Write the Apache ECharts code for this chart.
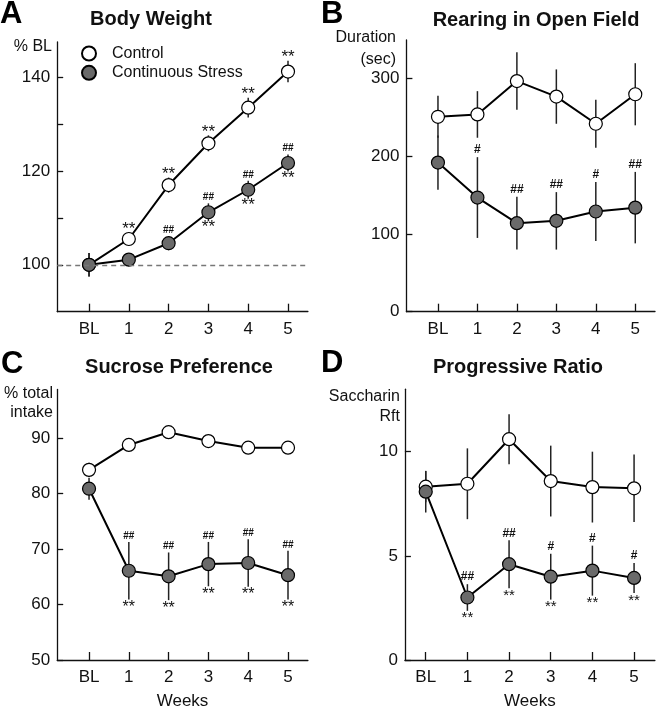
<!DOCTYPE html>
<html>
<head>
<meta charset="utf-8">
<script src="https://cdn.jsdelivr.net/npm/echarts@6/dist/echarts.min.js"></script>
<style>html,body{margin:0;padding:0;background:#fff}#c{width:656px;height:720px}</style>
</head>
<body>
<div id="c"></div>
<script>
// ---- categories ----
const weeks = ['BL', '1', '2', '3', '4', '5'];
const weekPos = [0, 1, 2, 3, 4, 5];

// ---- A: Body Weight (% BL) ----
const bwCtrl = [100, 105.5, 117.0, 125.9, 133.5, 141.2];
const bwCtrlErr = [2.5, 1.4, 1.6, 1.7, 2.1, 2.3];
const bwStress = [100, 101.1, 104.6, 111.2, 116.0, 121.7];
const bwStressErr = [2.5, 1.2, 1.5, 1.9, 1.9, 1.8];
const bwCtrlAbove = ['', '**', '**', '**', '**', '**'];
const bwStressAbove = ['', '', '##', '##', '##', '##'];
const bwStressBelow = ['', '', '', '**', '**', '**'];
const bwTicks = [100, 110, 120, 130, 140];
const bwLabels = [100, 120, 140];

// ---- B: Rearing in Open Field (sec) ----
const rrCtrl = [251, 254, 297, 277, 242, 280];
const rrCtrlErr = [27, 30, 37, 35, 31, 40];
const rrStress = [192, 147, 114, 117, 129, 134];
const rrStressErr = [35, 52, 34, 37, 38, 46];
const rrStressAbove = ['', '#', '##', '##', '#', '##'];
const rrTicks = [0, 100, 200, 300];

// ---- C: Sucrose Preference (% total intake) ----
const spCtrl = [84.3, 88.8, 91.1, 89.5, 88.3, 88.3];
const spCtrlErr = [1.3, 1.0, 0.9, 1.0, 0.8, 0.9];
const spStress = [80.9, 66.1, 65.1, 67.3, 67.5, 65.3];
const spStressErr = [2.0, 5.2, 4.3, 4.0, 4.3, 4.4];
const spStressAbove = ['', '##', '##', '##', '##', '##'];
const spStressBelow = ['', '**', '**', '**', '**', '**'];
const spTicks = [50, 60, 70, 80, 90];

// ---- D: Progressive Ratio (Saccharin Rft) ----
const prCtrl = [8.32, 8.46, 10.6, 8.59, 8.3, 8.24];
const prCtrlErr = [0.75, 1.7, 1.2, 1.7, 1.7, 1.62];
const prStress = [8.08, 3.0, 4.6, 4.0, 4.29, 3.94];
const prStressErr = [1.0, 0.64, 1.15, 1.1, 1.2, 0.72];
const prStressAbove = ['', '##', '##', '#', '#', '#'];
const prStressBelow = ['', '**', '**', '**', '**', '**'];
const prTicks = [0, 5, 10];

const FONT = '"Liberation Sans", Arial, Helvetica, sans-serif';
const STRESS_FILL = '#6a6a6a';

const chart = echarts.init(document.getElementById('c'), null, {renderer: 'canvas'});

function xAxisDef(gi, min, name) {
  return {
    type: 'value', gridIndex: gi, min: min, max: 5.5,
    name: name || '', nameLocation: 'middle', nameGap: 33,
    nameTextStyle: {fontFamily: FONT, fontSize: 17, color: '#111'},
    axisLine: {onZero: false, lineStyle: {color: '#111', width: 1.3}},
    axisTick: {inside: true, length: 8, customValues: weekPos, lineStyle: {color: '#111', width: 1.3}},
    axisLabel: {customValues: weekPos, formatter: v => weeks[Math.round(v)], fontFamily: FONT, fontSize: 17, color: '#111', margin: 9},
    splitLine: {show: false}
  };
}
function yAxisDef(gi, min, max, ticks, labels) {
  return {
    type: 'value', gridIndex: gi, min: min, max: max,
    axisLine: {show: true, onZero: false, lineStyle: {color: '#111', width: 1.3}},
    axisTick: {show: true, inside: true, length: 6, customValues: ticks, lineStyle: {color: '#111', width: 1.3}},
    axisLabel: {customValues: labels, fontFamily: FONT, fontSize: 17, color: '#111', margin: 7},
    splitLine: {show: false}
  };
}

function pts(vals) { return vals.map((v, i) => [weekPos[i], v]); }

function lineSeries(gi, name, vals, filled, extra) {
  return Object.assign({
    type: 'line', name: name, xAxisIndex: gi, yAxisIndex: gi,
    data: pts(vals), symbol: 'circle', symbolSize: 13,
    lineStyle: {color: '#000', width: 2},
    itemStyle: {color: filled ? STRESS_FILL : '#fff', borderColor: '#000', borderWidth: 1.2, opacity: 1},
    z: filled ? 4 : 3, animation: false
  }, extra || {});
}

function errSeries(gi, vals, errs, above, below, fAbove, fBelow, gapA, gapB) {
  return {
    type: 'custom', name: 'err' + gi, xAxisIndex: gi, yAxisIndex: gi, z: 1, animation: false,
    data: vals.map((v, i) => [weekPos[i], v, errs[i]]),
    renderItem: function (params, api) {
      const x = api.value(0), m = api.value(1), e = api.value(2);
      const t = api.coord([x, m + e]);
      const b = api.coord([x, m - e]);
      const children = [{
        type: 'line', shape: {x1: t[0], y1: t[1], x2: b[0], y2: b[1]},
        style: {stroke: '#222', lineWidth: 1.5}
      }];
      const ai = above ? above[params.dataIndex] : '';
      const bi = below ? below[params.dataIndex] : '';
      const fa = ai.indexOf('#') >= 0 ? 'bold ' : '';
      if (ai) children.push({type: 'text', style: {text: ai, x: t[0], y: t[1] - gapA, textAlign: 'center', textVerticalAlign: 'bottom', font: fa + fAbove + 'px ' + FONT, fill: '#111'}});
      if (bi) children.push({type: 'text', style: {text: bi, x: b[0], y: b[1] + gapB, textAlign: 'center', textVerticalAlign: 'top', font: fBelow + 'px ' + FONT, fill: '#111'}});
      return {type: 'group', children: children};
    }
  };
}

function txt(text, x, y, size) {
  return {type: 'text', style: {text: text, x: x, y: y, font: size + 'px ' + FONT, fill: '#111', textAlign: 'right', textVerticalAlign: 'middle'}};
}

const titleStyle = {fontFamily: FONT, fontSize: 20, fontWeight: 'bold', color: '#111'};

const option = {
  backgroundColor: '#fff',
  animation: false,
  title: [
    {text: 'Body Weight', left: 151, top: 9, textAlign: 'center', textStyle: titleStyle, padding: 0},
    {text: 'Rearing in Open Field', left: 536, top: 10, textAlign: 'center', textStyle: titleStyle, padding: 0},
    {text: 'Sucrose Preference', left: 179, top: 357, textAlign: 'center', textStyle: titleStyle, padding: 0},
    {text: 'Progressive Ratio', left: 518, top: 357, textAlign: 'center', textStyle: titleStyle, padding: 0}
  ],
  legend: {
    data: ['Control', 'Continuous Stress'], orient: 'vertical', left: 81, top: 45.5,
    icon: 'circle', itemWidth: 14, itemHeight: 14, itemGap: 3.3, padding: 0,
    selectedMode: false,
    textStyle: {fontFamily: FONT, fontSize: 16, color: '#111', padding: [0, 0, 0, 11]}
  },
  grid: [
    {left: 57.2, top: 42, width: 250.7, height: 269.7},
    {left: 406.4, top: 39.9, width: 248.6, height: 271.8},
    {left: 57.2, top: 389.5, width: 250.7, height: 270.5},
    {left: 404.9, top: 389.2, width: 250, height: 270.8}
  ],
  xAxis: [
    xAxisDef(0, -0.8), xAxisDef(1, -0.8), xAxisDef(2, -0.8, 'Weeks'), xAxisDef(3, -0.5, 'Weeks')
  ],
  yAxis: [
    yAxisDef(0, 90, 147.5, bwTicks, bwLabels),
    yAxisDef(1, 0, 350, rrTicks, rrTicks),
    yAxisDef(2, 50, 98.8, spTicks, spTicks),
    yAxisDef(3, 0, 13, prTicks, prTicks)
  ],
  series: [
    // A
    errSeries(0, bwCtrl, bwCtrlErr, bwCtrlAbove, null, 17, 17, -5, -2),
    errSeries(0, bwStress, bwStressErr, bwStressAbove, bwStressBelow, 10, 17, 1, -2),
    lineSeries(0, 'Control', bwCtrl, false, {
      markLine: {silent: true, symbol: 'none', label: {show: false},
        lineStyle: {color: '#777', type: [5, 4], width: 1.3}, data: [{yAxis: 100}]}
    }),
    lineSeries(0, 'Continuous Stress', bwStress, true),
    // B
    errSeries(1, rrCtrl, rrCtrlErr, null, null, 12, 12, 0, 0),
    errSeries(1, rrStress, rrStressErr, rrStressAbove, null, 12, 12, 1, 0),
    lineSeries(1, 'Control', rrCtrl, false),
    lineSeries(1, 'Continuous Stress', rrStress, true),
    // C
    errSeries(2, spCtrl, spCtrlErr, null, null, 10, 16, 0, 0),
    errSeries(2, spStress, spStressErr, spStressAbove, spStressBelow, 10, 16, 1, 0),
    lineSeries(2, 'Control', spCtrl, false),
    lineSeries(2, 'Continuous Stress', spStress, true),
    // D
    errSeries(3, prCtrl, prCtrlErr, null, null, 12, 15, 0, 0),
    errSeries(3, prStress, prStressErr, prStressAbove, prStressBelow, 12, 15, 1, 0),
    lineSeries(3, 'Control', prCtrl, false),
    lineSeries(3, 'Continuous Stress', prStress, true)
  ],
  graphic: [
    {type: 'text', style: {text: 'A', x: 0, y: 14, font: 'bold 31px ' + FONT, fill: '#000', textVerticalAlign: 'middle'}},
    {type: 'text', style: {text: 'B', x: 321, y: 14, font: 'bold 31px ' + FONT, fill: '#000', textVerticalAlign: 'middle'}},
    {type: 'text', style: {text: 'C', x: 1, y: 364, font: 'bold 31px ' + FONT, fill: '#000', textVerticalAlign: 'middle'}},
    {type: 'text', style: {text: 'D', x: 321, y: 363, font: 'bold 31px ' + FONT, fill: '#000', textVerticalAlign: 'middle'}},
    txt('% BL', 52, 47, 16),
    txt('Duration', 396, 38, 16),
    txt('(sec)', 396, 60, 16),
    txt('% total', 53, 394, 16),
    txt('intake', 53, 413, 16),
    txt('Saccharin', 400, 397, 16),
    txt('Rft', 400, 417, 16)
  ]
};
chart.setOption(option);
</script>
</body>
</html>
